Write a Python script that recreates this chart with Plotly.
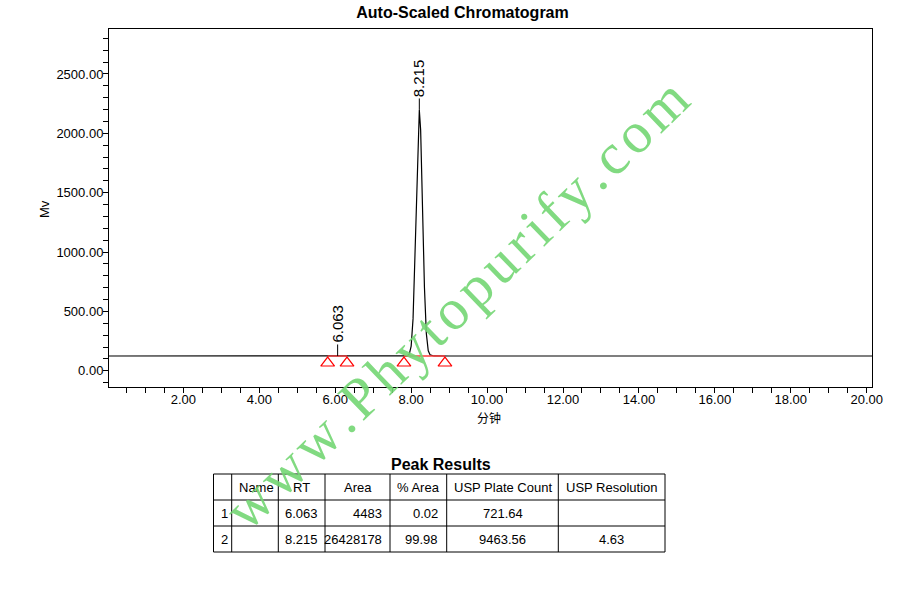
import plotly.graph_objects as go

# ---------------- data ----------------
# chromatogram trace (minutes, mV)
time_min = [0.0, 5.0, 6.0, 6.063, 6.2, 7.0, 7.8, 7.85, 7.90, 7.95, 8.00, 8.05, 8.10, 8.15, 8.20, 8.215,
            8.25, 8.30, 8.35, 8.40, 8.45, 8.50, 8.55, 8.60, 9.0, 12.0, 16.0, 20.2]
signal_mv = [124, 124, 124, 124.4, 124, 124, 124, 124, 126, 140, 208, 439, 954, 1671, 2165, 2197,
             2027, 1381, 702, 313, 168, 133, 126, 124.5, 124, 124, 124, 124]

peak_rt = [6.063, 8.215]
peak_apex_mv = [124.4, 2197]
peak_start = [5.80, 7.81]
peak_end = [6.31, 8.89]
baseline_mv = 124

# table
tbl_header = ["", "Name", "RT", "Area", "% Area", "USP Plate Count", "USP Resolution"]
tbl_index = ["1", "2"]
tbl_name = ["", ""]
tbl_rt = ["6.063", "8.215"]
tbl_area = ["4483", "26428178"]
tbl_pct = ["0.02", "99.98"]
tbl_plates = ["721.64", "9463.56"]
tbl_res = ["", "4.63"]

x_range = [0.04, 20.14]
y_range = [-137, 2879]

FONT = "Arial, Liberation Sans, sans-serif"
W, H = 907, 595


def fx(px):
    return px / W


def fy(py):
    return 1 - py / H


fig = go.Figure()

# chromatogram
fig.add_trace(go.Scatter(x=time_min, y=signal_mv, mode="lines",
                         line=dict(color="black", width=1.2), hoverinfo="skip", showlegend=False))

# integration baselines (red)
for s, e in zip(peak_start, peak_end):
    fig.add_trace(go.Scatter(x=[s, e], y=[baseline_mv, baseline_mv], mode="lines",
                             line=dict(color="rgba(255,60,60,0.75)", width=1.8),
                             hoverinfo="skip", showlegend=False))

# start / end triangles
tri_x = peak_start + peak_end
fig.add_trace(go.Scatter(x=tri_x, y=[baseline_mv - 59] * len(tri_x), mode="markers",
                         marker=dict(symbol="triangle-up-open", size=12, color="red",
                                     line=dict(width=1.2, color="red")),
                         hoverinfo="skip", showlegend=False, cliponaxis=False))

# peak labels
for rt, h in zip(peak_rt, peak_apex_mv):
    fig.add_annotation(x=rt, y=h, xref="x", yref="y", text=f"{rt:.3f}", textangle=-90,
                       showarrow=True, arrowhead=0, arrowwidth=1, arrowcolor="black",
                       ax=0, ay=-32, font=dict(family=FONT, size=15, color="black"))

axis_common = dict(showline=True, linecolor="black", linewidth=1, mirror=True,
                   ticks="outside", ticklen=5, tickcolor="black", showgrid=False, zeroline=False,
                   tickfont=dict(family=FONT, size=13, color="black"))

fig.update_layout(
    width=W, height=H, template="none",
    margin=dict(l=0, r=0, t=0, b=0),
    paper_bgcolor="white", plot_bgcolor="white",
    showlegend=False,
    title=dict(text="<b>Auto-Scaled Chromatogram</b>", x=fx(462.5), xanchor="center",
               y=fy(12.5), yanchor="middle", font=dict(family=FONT, size=16, color="black")),
    xaxis=dict(domain=[fx(109), fx(872)], range=x_range, dtick=2, tick0=0, tickformat=".2f",
               ticklabelstandoff=-5,
               minor=dict(dtick=0.5, ticks="outside", ticklen=5, tickcolor="black"),
               **axis_common),
    yaxis=dict(domain=[fy(387), fy(29)], range=y_range, dtick=500, tick0=0, tickformat=".2f",
               ticklabelstandoff=-3,
               minor=dict(dtick=100, ticks="outside", ticklen=5, tickcolor="black"),
               **axis_common),
)

# axis titles
fig.add_annotation(text="分钟", x=fx(489), y=fy(417), xref="paper", yref="paper",
                   xanchor="center", yanchor="middle",
                   showarrow=False, font=dict(family="Noto Sans CJK SC", size=12, color="black"))
fig.add_annotation(text="Mv", x=fx(45), y=fy(209), xref="paper", yref="paper", textangle=-90,
                   xanchor="center", yanchor="middle",
                   showarrow=False, font=dict(family=FONT, size=13, color="black"))

# ---------------- peak results table (lines + cell texts) ----------------
fig.add_annotation(text="<b>Peak Results</b>", x=fx(441), y=fy(464), xref="paper", yref="paper",
                   xanchor="center", yanchor="middle",
                   showarrow=False, font=dict(family=FONT, size=16, color="black"))

col_edges = [213.5, 231.7, 278.3, 325, 390, 446.7, 558.3, 665]
row_edges = [474, 500, 526, 552]
for cx in col_edges:
    fig.add_shape(type="line", xref="paper", yref="paper", x0=fx(cx), x1=fx(cx),
                  y0=fy(row_edges[0]), y1=fy(row_edges[-1]), line=dict(color="black", width=1))
for ry in row_edges:
    fig.add_shape(type="line", xref="paper", yref="paper", x0=fx(col_edges[0]), x1=fx(col_edges[-1]),
                  y0=fy(ry), y1=fy(ry), line=dict(color="black", width=1))

hdr_align = ["left", "left", "center", "center", "center", "center", "center"]
cell_align = ["left", "left", "left", "right", "right", "center", "center"]
columns = [tbl_index, tbl_name, tbl_rt, tbl_area, tbl_pct, tbl_plates, tbl_res]
PAD = 5


def put_cell(text, ci, ri, align):
    if not text:
        return
    x0, x1 = col_edges[ci], col_edges[ci + 1]
    yc = (row_edges[ri] + row_edges[ri + 1]) / 2
    if align == "left":
        xp, xa = x0 + PAD, "left"
    elif align == "right":
        xp, xa = x1 - PAD - 1.5, "right"
    else:
        xp, xa = (x0 + x1) / 2, "center"
    fig.add_annotation(text=text, x=fx(xp), y=fy(yc), xref="paper", yref="paper",
                       xanchor=xa, yanchor="middle", showarrow=False,
                       font=dict(family=FONT, size=13, color="black"))


for ci, t in enumerate(tbl_header):
    put_cell(t, ci, 0, hdr_align[ci])
for ci, col in enumerate(columns):
    for ri, t in enumerate(col):
        put_cell(t, ci, ri + 1, cell_align[ci])

# watermark (letter-spaced)
HS = "\u200a"
wm = HS.join("www.Phytopurify.com")
fig.add_annotation(text=wm, x=fx(456), y=fy(304), xref="paper", yref="paper",
                   xanchor="center", yanchor="middle",
                   textangle=-44, showarrow=False,
                   font=dict(family="Liberation Serif", size=58, color="rgba(115,214,115,0.9)"))

# the page would otherwise add an 8px body margin around the figure
fig.write_html("out.html", config={"displayModeBar": False},
               post_script="document.body.style.margin='0px';")
